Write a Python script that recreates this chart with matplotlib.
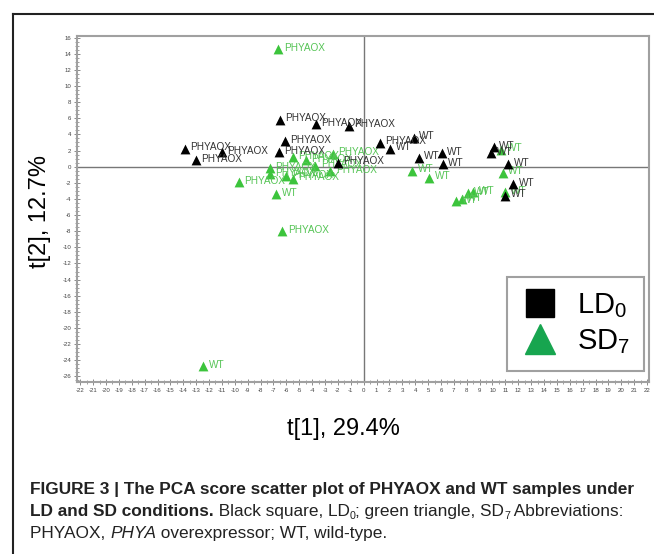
import matplotlib
matplotlib.use("Agg")
import matplotlib.pyplot as plt
from matplotlib.lines import Line2D
from matplotlib.ticker import MultipleLocator

plt.rcParams['font.family'] = ['Liberation Sans', 'DejaVu Sans']
plt.rcParams['axes.unicode_minus'] = False
plt.rcParams['mathtext.fontset'] = 'custom'
plt.rcParams['mathtext.rm'] = 'Liberation Sans'

# LD0 scores (black)
ld_x = [-13.9, -13.05, -11.0, -6.6, -6.1, -6.5, -3.7, -1.14, -2.0, 1.24,
        2.07, 3.9, 4.26, 6.07, 6.15, 10.1, 9.9, 11.2, 11.6, 11.0]
ld_y = [2.25, 0.8, 1.8, 1.8, 3.15, 5.8, 5.3, 5.1, 0.5, 2.95,
        2.25, 3.6, 1.1, 1.7, 0.3, 2.45, 1.7, 0.3, -2.2, -3.6]
ld_lab = ['PHYAOX'] * 10 + ['WT'] * 10

# SD7 scores (green)
sd_x = [-6.64, -5.5, -4.5, -2.4, -3.75, -7.3, -7.3, -6.0, -5.5, -2.6, -9.7,
        -6.8, -6.3, -12.45, 3.77, 5.1, 10.7, 10.8, 11.0, 7.2, 7.6, 8.1, 8.5]
sd_y = [14.6, 1.2, 0.8, 1.6, 0.1, -0.2, -0.95, -1.2, -1.5, -0.6, -1.9,
        -3.4, -8.0, -24.75, -0.5, -1.35, 2.1, -0.75, -3.2, -4.3, -4.0, -3.3, -3.2]
sd_lab = ['PHYAOX'] * 11 + ['WT', 'PHYAOX', 'WT'] + ['WT'] * 9

W, H = 654, 554
fig = plt.figure(figsize=(W / 100, H / 100), dpi=100)
ax = fig.add_axes([77 / W, (H - 382) / H, 572 / W, 346 / H])

green = '#3cc43c'
ax.axvline(0, color='#777777', lw=1.0, zorder=1)
ax.axhline(0, color='#777777', lw=1.0, zorder=1)

ax.scatter(sd_x, sd_y, marker='^', s=50, color=green, linewidths=0, zorder=3)
for x, y, t in zip(sd_x, sd_y, sd_lab):
    ax.annotate(t, (x, y), xytext=(4, 1), textcoords='offset points',
                fontsize=7.2, color='#55c455', va='center', zorder=3)
ax.scatter(ld_x, ld_y, marker='^', s=50, color='black', linewidths=0, zorder=4)
for x, y, t in zip(ld_x, ld_y, ld_lab):
    ax.annotate(t, (x, y), xytext=(4, 1), textcoords='offset points',
                fontsize=7.2, color='#333333', va='center', zorder=4)

ax.set_xlim(-22.25, 22.15)
ax.set_ylim(-26.7, 16.2)
ax.xaxis.set_major_locator(MultipleLocator(1))
ax.xaxis.set_minor_locator(MultipleLocator(0.5))
ax.yaxis.set_major_locator(MultipleLocator(2))
ax.yaxis.set_minor_locator(MultipleLocator(0.5))
ax.tick_params(which='major', direction='inout', length=4, width=0.6,
               color='#777777', labelsize=4.4, labelcolor='#444444', pad=2)
ax.tick_params(which='minor', direction='inout', length=2.5, width=0.5,
               color='#777777')
ax.tick_params(top=False, right=False, which='both')
for s in ax.spines.values():
    s.set_color('#a0a0a0')
    s.set_linewidth(1.5)

ax.set_xlabel('t[1], 29.4%', fontsize=17)
ax.xaxis.set_label_coords((343 - 77) / 572, -(429 - 382) / 346)
ax.xaxis.label.set_va('center')
ax.set_ylabel('t[2], 12.7%', fontsize=17)
ax.yaxis.set_label_coords(-(77 - 40) / 572, (382 - 212) / 346)
ax.yaxis.label.set_va('center')

handles = [Line2D([], [], marker='s', color='black', ls='none', markersize=20),
           Line2D([], [], marker='^', color='#17a54f', ls='none', markersize=22)]
leg = ax.legend(handles, ['LD$_0$', 'SD$_7$'], loc='lower right',
                bbox_to_anchor=(0.992, 0.032), borderaxespad=0, fontsize=21,
                fancybox=False, framealpha=1, edgecolor='#a0a0a0',
                handletextpad=0.6, labelspacing=0.25, borderpad=0.5,
                handlelength=1.3)
leg.get_frame().set_linewidth(1.5)

# outer frame
fig.add_artist(Line2D([12.5 / W, 12.5 / W], [0, 1 - 14 / H], color='#222222', lw=1.5))
fig.add_artist(Line2D([12.5 / W, 1], [1 - 14 / H, 1 - 14 / H], color='#222222', lw=1.5))

# caption with mixed styles
renderer = fig.canvas.get_renderer()
cap_size = 12.4


def run_width(txt, prop):
    w1 = renderer.get_text_width_height_descent(txt + '.', prop, ismath=False)[0]
    w2 = renderer.get_text_width_height_descent('.', prop, ismath=False)[0]
    return w1 - w2


def draw_runs(x_px, y_px, runs):
    x = x_px
    for txt, weight, style, sub in runs:
        fs = cap_size * 0.62 if sub else cap_size
        yy = y_px + (3 if sub else 0)
        t = fig.text(x / W, 1 - yy / H, txt, fontsize=fs, weight=weight,
                     style=style, va='baseline', ha='left', color='#222222')
        x += run_width(txt, t.get_fontproperties())


draw_runs(30, 494, [('FIGURE 3 | The PCA score scatter plot of PHYAOX and WT samples under',
                     'bold', 'normal', False)])
draw_runs(30, 516, [('LD and SD conditions.', 'bold', 'normal', False),
                    (' Black square, LD', 'normal', 'normal', False),
                    ('0', 'normal', 'normal', True),
                    ('; green triangle, SD', 'normal', 'normal', False),
                    ('7', 'normal', 'normal', True),
                    (' Abbreviations:', 'normal', 'normal', False)])
draw_runs(30, 538, [('PHYAOX, ', 'normal', 'normal', False),
                    ('PHYA', 'normal', 'italic', False),
                    (' overexpressor; WT, wild-type.', 'normal', 'normal', False)])

fig.savefig('out.png', dpi=100)
